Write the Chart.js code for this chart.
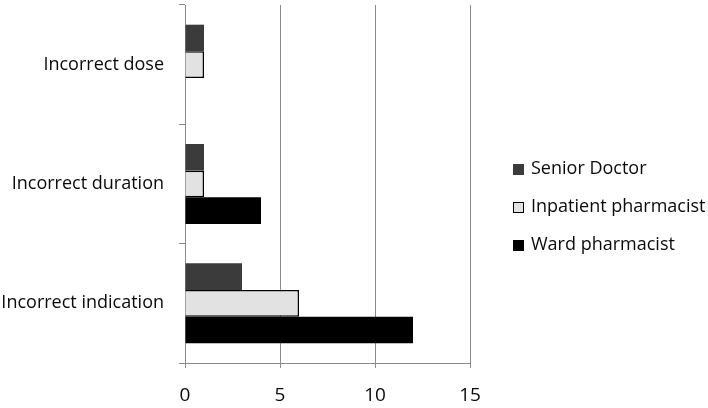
<!DOCTYPE html>
<html>
<head>
<meta charset="utf-8">
<script src="https://cdn.jsdelivr.net/npm/chart.js@4"></script>
<style>
   html, body { margin: 0; padding: 0; background: #fff; }
   #wrap { width: 708px; height: 408px; }
</style>
</head>
<body>
<div id="wrap"><canvas id="errorChart" width="708" height="408"></canvas></div>
<script>
const categories = ["Incorrect dose", "Incorrect duration", "Incorrect indication"];
const seriesNames = ["Senior Doctor", "Inpatient pharmacist", "Ward pharmacist"];
const seniorDoctor = [1, 1, 3];
const inpatientPharmacist = [1, 1, 6];
const wardPharmacist = [0, 4, 12];
const xTicks = [0, 5, 10, 15];

const fontFamily = "'Open Sans', sans-serif";
const textColor = "#0a0a0a";
const axisColor = "#8a8a8a";

// legend drawn by hand so it can sit at the exact spot of the original
const sideLegend = {
   id: "sideLegend",
   afterDraw(chart) {
      const ctx = chart.ctx;
      const left = 513;
      const rows = [169, 207, 245];
      ctx.save();
      ctx.font = `18px ${fontFamily}`;
      ctx.textBaseline = "middle";
      ctx.textAlign = "left";
      chart.data.datasets.forEach((dataset, i) => {
         const y = rows[i];
         ctx.fillStyle = dataset.backgroundColor;
         ctx.fillRect(left, y - 5, 11, 11);
         if (dataset.borderWidth) {
            ctx.strokeStyle = dataset.borderColor;
            ctx.lineWidth = 1;
            ctx.strokeRect(left + 0.5, y - 4.5, 10, 10);
         }
         ctx.fillStyle = textColor;
         ctx.fillText(dataset.label, left + 18, y);
      });
      ctx.restore();
   }
};

new Chart(document.getElementById("errorChart"), {
   type: "bar",
   data: {
      labels: categories,
      datasets: [
         {
            label: seriesNames[0],
            data: seniorDoctor,
            backgroundColor: "#3b3b3b",
            borderWidth: 0
         },
         {
            label: seriesNames[1],
            data: inpatientPharmacist,
            backgroundColor: "#e2e2e2",
            borderColor: "#000000",
            borderWidth: 1.5,
            borderSkipped: "left"
         },
         {
            label: seriesNames[2],
            data: wardPharmacist,
            backgroundColor: "#000000",
            borderWidth: 0
         }
      ]
   },
   options: {
      indexAxis: "y",
      responsive: false,
      animation: false,
      layout: {
         padding: { top: 5, right: 238, bottom: 0, left: 0 }
      },
      datasets: {
         bar: {
            categoryPercentage: 0.67,
            barPercentage: 1.0
         }
      },
      plugins: {
         legend: { display: false },
         tooltip: { enabled: false }
      },
      scales: {
         x: {
            min: 0,
            max: 15,
            afterBuildTicks(axis) {
               axis.ticks = xTicks.map((value) => ({ value }));
            },
            afterFit(axis) {
               axis.height = 45;
               axis.paddingLeft = 0;
               axis.paddingRight = 0;
            },
            grid: {
               color: axisColor,
               lineWidth: 1,
               tickLength: 5
            },
            border: { color: axisColor, width: 1 },
            ticks: {
               padding: 16,
               color: textColor,
               font: { family: fontFamily, size: 19 }
            }
         },
         y: {
            afterFit(axis) {
               axis.width = 185;
               axis.paddingTop = 0;
               axis.paddingBottom = 0;
            },
            grid: {
               offset: true,
               drawOnChartArea: false,
               color: axisColor,
               tickLength: 6
            },
            border: { color: axisColor, width: 1 },
            ticks: {
               padding: 15,
               color: textColor,
               font: { family: fontFamily, size: 18 }
            }
         }
      }
   },
   plugins: [sideLegend]
});
</script>
</body>
</html>
